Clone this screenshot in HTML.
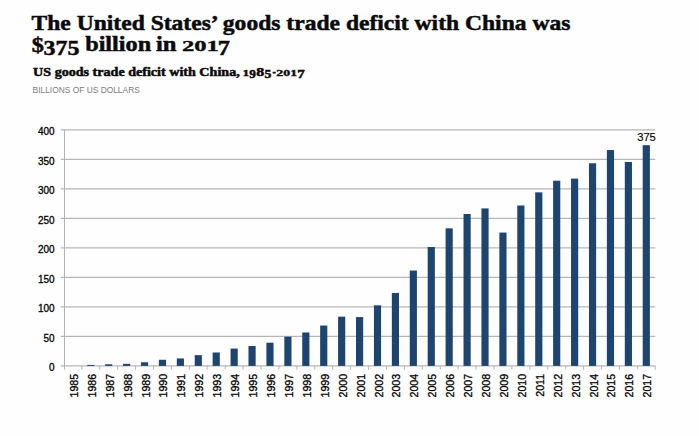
<!DOCTYPE html>
<html><head><meta charset="utf-8"><style>
html,body{margin:0;padding:0;background:#fefefe;}
body{width:699px;height:436px;position:relative;overflow:hidden;}
svg{position:absolute;left:0;top:0;}
.ser{font-family:"Liberation Serif",serif;font-weight:bold;fill:#0a0a0a;stroke:#0a0a0a;stroke-width:0.5px;}
.san{font-family:"Liberation Sans",sans-serif;}
.lab{font-family:"Liberation Sans",sans-serif;font-size:10.6px;fill:#000;stroke:#000;stroke-width:0.3px;}
</style></head><body>
<svg width="699" height="436" viewBox="0 0 699 436">
<text class="ser" transform="translate(31.48,30.00) scale(1,1.0)" font-size="21.5" textLength="538.94" lengthAdjust="spacingAndGlyphs">The United States’ goods trade deficit with China was</text>
<text class="ser" transform="translate(31.68,52.00) scale(1,1.0)" font-size="21.5" textLength="12.15" lengthAdjust="spacingAndGlyphs">$</text><text class="ser" transform="translate(43.55,55.00) scale(1,1.0)" font-size="21.5" textLength="35.88" lengthAdjust="spacingAndGlyphs">375</text><text class="ser" transform="translate(85.14,51.00) scale(1,1.0)" font-size="21.5" textLength="66.08" lengthAdjust="spacingAndGlyphs">billion</text><text class="ser" transform="translate(156.01,51.00) scale(1,1.0)" font-size="21.5" textLength="20.51" lengthAdjust="spacingAndGlyphs">in</text><text class="ser" transform="translate(181.91,51.00) scale(1,0.72)" font-size="21.5" textLength="37.01" lengthAdjust="spacingAndGlyphs">201</text><text class="ser" transform="translate(217.66,55.00) scale(1,1.0)" font-size="21.5" textLength="12.19" lengthAdjust="spacingAndGlyphs">7</text>
<text class="ser" transform="translate(33.10,76.30) scale(1,1.0)" font-size="12.6" textLength="206.59" lengthAdjust="spacingAndGlyphs">US goods trade deficit with China,</text><text class="ser" transform="translate(242.56,76.30) scale(1,0.71)" font-size="12.6" textLength="6.79" lengthAdjust="spacingAndGlyphs">1</text><text class="ser" transform="translate(249.29,78.30) scale(1,1.0)" font-size="12.6" textLength="6.64" lengthAdjust="spacingAndGlyphs">9</text><text class="ser" transform="translate(256.32,76.30) scale(1,1.0)" font-size="12.6" textLength="7.96" lengthAdjust="spacingAndGlyphs">8</text><text class="ser" transform="translate(264.60,78.30) scale(1,1.0)" font-size="12.6" textLength="6.85" lengthAdjust="spacingAndGlyphs">5</text><text class="ser" transform="translate(272.48,76.30) scale(1,1.0)" font-size="12.6" textLength="3.33" lengthAdjust="spacingAndGlyphs">-</text><text class="ser" transform="translate(276.27,76.30) scale(1,0.71)" font-size="12.6" textLength="20.80" lengthAdjust="spacingAndGlyphs">201</text><text class="ser" transform="translate(297.19,78.30) scale(1,1.0)" font-size="12.6" textLength="7.53" lengthAdjust="spacingAndGlyphs">7</text>
<text class="san" x="32.6" y="92.7" font-size="8.4" fill="#7c7c7c" textLength="107.2" lengthAdjust="spacingAndGlyphs">BILLIONS OF US DOLLARS</text>
<line x1="60.8" y1="336.40" x2="655.26" y2="336.40" stroke="#b6b6b6" stroke-width="1.2"/><line x1="60.8" y1="306.90" x2="655.26" y2="306.90" stroke="#b6b6b6" stroke-width="1.2"/><line x1="60.8" y1="277.40" x2="655.26" y2="277.40" stroke="#b6b6b6" stroke-width="1.2"/><line x1="60.8" y1="247.90" x2="655.26" y2="247.90" stroke="#b6b6b6" stroke-width="1.2"/><line x1="60.8" y1="218.40" x2="655.26" y2="218.40" stroke="#b6b6b6" stroke-width="1.2"/><line x1="60.8" y1="188.90" x2="655.26" y2="188.90" stroke="#b6b6b6" stroke-width="1.2"/><line x1="60.8" y1="159.40" x2="655.26" y2="159.40" stroke="#b6b6b6" stroke-width="1.2"/><line x1="60.8" y1="129.90" x2="655.26" y2="129.90" stroke="#b6b6b6" stroke-width="1.2"/><line x1="60.8" y1="365.9" x2="655.26" y2="365.9" stroke="#b6b6b6" stroke-width="1.2"/><rect x="69.28" y="365.90" width="7.17" height="0.00" fill="#1e456f"/><rect x="87.20" y="364.90" width="7.17" height="1.00" fill="#1e456f"/><rect x="105.12" y="364.25" width="7.17" height="1.65" fill="#1e456f"/><rect x="123.04" y="363.84" width="7.17" height="2.06" fill="#1e456f"/><rect x="140.96" y="362.26" width="7.17" height="3.64" fill="#1e456f"/><rect x="158.88" y="359.79" width="7.17" height="6.11" fill="#1e456f"/><rect x="176.80" y="358.44" width="7.17" height="7.46" fill="#1e456f"/><rect x="194.72" y="355.15" width="7.17" height="10.75" fill="#1e456f"/><rect x="212.64" y="352.50" width="7.17" height="13.40" fill="#1e456f"/><rect x="230.56" y="348.56" width="7.17" height="17.34" fill="#1e456f"/><rect x="248.48" y="346.04" width="7.17" height="19.86" fill="#1e456f"/><rect x="266.40" y="342.69" width="7.17" height="23.21" fill="#1e456f"/><rect x="284.32" y="336.69" width="7.17" height="29.21" fill="#1e456f"/><rect x="302.24" y="332.46" width="7.17" height="33.44" fill="#1e456f"/><rect x="320.16" y="325.53" width="7.17" height="40.37" fill="#1e456f"/><rect x="338.08" y="316.66" width="7.17" height="49.24" fill="#1e456f"/><rect x="356.00" y="317.07" width="7.17" height="48.83" fill="#1e456f"/><rect x="373.92" y="305.31" width="7.17" height="60.59" fill="#1e456f"/><rect x="391.84" y="292.97" width="7.17" height="72.93" fill="#1e456f"/><rect x="409.76" y="270.53" width="7.17" height="95.37" fill="#1e456f"/><rect x="427.68" y="247.02" width="7.17" height="118.88" fill="#1e456f"/><rect x="445.60" y="228.33" width="7.17" height="137.57" fill="#1e456f"/><rect x="463.52" y="214.00" width="7.17" height="151.90" fill="#1e456f"/><rect x="481.44" y="208.41" width="7.17" height="157.49" fill="#1e456f"/><rect x="499.36" y="232.56" width="7.17" height="133.34" fill="#1e456f"/><rect x="517.28" y="205.47" width="7.17" height="160.43" fill="#1e456f"/><rect x="535.20" y="192.37" width="7.17" height="173.53" fill="#1e456f"/><rect x="553.12" y="180.73" width="7.17" height="185.17" fill="#1e456f"/><rect x="571.04" y="178.62" width="7.17" height="187.28" fill="#1e456f"/><rect x="588.96" y="163.28" width="7.17" height="202.62" fill="#1e456f"/><rect x="606.88" y="150.06" width="7.17" height="215.84" fill="#1e456f"/><rect x="624.80" y="161.99" width="7.17" height="203.91" fill="#1e456f"/><rect x="642.72" y="145.18" width="7.17" height="220.72" fill="#1e456f"/><line x1="64.5" y1="129.40" x2="64.5" y2="369.6" stroke="#b4b4b4" stroke-width="1"/><line x1="81.82" y1="365.9" x2="81.82" y2="369.6" stroke="#b4b4b4" stroke-width="1"/><line x1="99.74" y1="365.9" x2="99.74" y2="369.6" stroke="#b4b4b4" stroke-width="1"/><line x1="117.66" y1="365.9" x2="117.66" y2="369.6" stroke="#b4b4b4" stroke-width="1"/><line x1="135.58" y1="365.9" x2="135.58" y2="369.6" stroke="#b4b4b4" stroke-width="1"/><line x1="153.50" y1="365.9" x2="153.50" y2="369.6" stroke="#b4b4b4" stroke-width="1"/><line x1="171.42" y1="365.9" x2="171.42" y2="369.6" stroke="#b4b4b4" stroke-width="1"/><line x1="189.34" y1="365.9" x2="189.34" y2="369.6" stroke="#b4b4b4" stroke-width="1"/><line x1="207.26" y1="365.9" x2="207.26" y2="369.6" stroke="#b4b4b4" stroke-width="1"/><line x1="225.18" y1="365.9" x2="225.18" y2="369.6" stroke="#b4b4b4" stroke-width="1"/><line x1="243.10" y1="365.9" x2="243.10" y2="369.6" stroke="#b4b4b4" stroke-width="1"/><line x1="261.02" y1="365.9" x2="261.02" y2="369.6" stroke="#b4b4b4" stroke-width="1"/><line x1="278.94" y1="365.9" x2="278.94" y2="369.6" stroke="#b4b4b4" stroke-width="1"/><line x1="296.86" y1="365.9" x2="296.86" y2="369.6" stroke="#b4b4b4" stroke-width="1"/><line x1="314.78" y1="365.9" x2="314.78" y2="369.6" stroke="#b4b4b4" stroke-width="1"/><line x1="332.70" y1="365.9" x2="332.70" y2="369.6" stroke="#b4b4b4" stroke-width="1"/><line x1="350.62" y1="365.9" x2="350.62" y2="369.6" stroke="#b4b4b4" stroke-width="1"/><line x1="368.54" y1="365.9" x2="368.54" y2="369.6" stroke="#b4b4b4" stroke-width="1"/><line x1="386.46" y1="365.9" x2="386.46" y2="369.6" stroke="#b4b4b4" stroke-width="1"/><line x1="404.38" y1="365.9" x2="404.38" y2="369.6" stroke="#b4b4b4" stroke-width="1"/><line x1="422.30" y1="365.9" x2="422.30" y2="369.6" stroke="#b4b4b4" stroke-width="1"/><line x1="440.22" y1="365.9" x2="440.22" y2="369.6" stroke="#b4b4b4" stroke-width="1"/><line x1="458.14" y1="365.9" x2="458.14" y2="369.6" stroke="#b4b4b4" stroke-width="1"/><line x1="476.06" y1="365.9" x2="476.06" y2="369.6" stroke="#b4b4b4" stroke-width="1"/><line x1="493.98" y1="365.9" x2="493.98" y2="369.6" stroke="#b4b4b4" stroke-width="1"/><line x1="511.90" y1="365.9" x2="511.90" y2="369.6" stroke="#b4b4b4" stroke-width="1"/><line x1="529.82" y1="365.9" x2="529.82" y2="369.6" stroke="#b4b4b4" stroke-width="1"/><line x1="547.74" y1="365.9" x2="547.74" y2="369.6" stroke="#b4b4b4" stroke-width="1"/><line x1="565.66" y1="365.9" x2="565.66" y2="369.6" stroke="#b4b4b4" stroke-width="1"/><line x1="583.58" y1="365.9" x2="583.58" y2="369.6" stroke="#b4b4b4" stroke-width="1"/><line x1="601.50" y1="365.9" x2="601.50" y2="369.6" stroke="#b4b4b4" stroke-width="1"/><line x1="619.42" y1="365.9" x2="619.42" y2="369.6" stroke="#b4b4b4" stroke-width="1"/><line x1="637.34" y1="365.9" x2="637.34" y2="369.6" stroke="#b4b4b4" stroke-width="1"/><line x1="655.26" y1="365.9" x2="655.26" y2="369.6" stroke="#b4b4b4" stroke-width="1"/>
<g class="lab">
<text transform="translate(54.6,371.20) scale(0.94,1)" text-anchor="end">0</text><text transform="translate(54.6,341.70) scale(0.94,1)" text-anchor="end">50</text><text transform="translate(54.6,312.20) scale(0.94,1)" text-anchor="end">100</text><text transform="translate(54.6,282.70) scale(0.94,1)" text-anchor="end">150</text><text transform="translate(54.6,253.20) scale(0.94,1)" text-anchor="end">200</text><text transform="translate(54.6,223.70) scale(0.94,1)" text-anchor="end">250</text><text transform="translate(54.6,194.20) scale(0.94,1)" text-anchor="end">300</text><text transform="translate(54.6,164.70) scale(0.94,1)" text-anchor="end">350</text><text transform="translate(54.6,135.20) scale(0.94,1)" text-anchor="end">400</text>
<text transform="translate(77.86,373.9) rotate(-90) scale(1.0,1)" text-anchor="end">1985</text><text transform="translate(95.78,373.9) rotate(-90) scale(1.0,1)" text-anchor="end">1986</text><text transform="translate(113.70,373.9) rotate(-90) scale(1.0,1)" text-anchor="end">1987</text><text transform="translate(131.62,373.9) rotate(-90) scale(1.0,1)" text-anchor="end">1988</text><text transform="translate(149.54,373.9) rotate(-90) scale(1.0,1)" text-anchor="end">1989</text><text transform="translate(167.46,373.9) rotate(-90) scale(1.0,1)" text-anchor="end">1990</text><text transform="translate(185.38,373.9) rotate(-90) scale(1.0,1)" text-anchor="end">1991</text><text transform="translate(203.30,373.9) rotate(-90) scale(1.0,1)" text-anchor="end">1992</text><text transform="translate(221.22,373.9) rotate(-90) scale(1.0,1)" text-anchor="end">1993</text><text transform="translate(239.14,373.9) rotate(-90) scale(1.0,1)" text-anchor="end">1994</text><text transform="translate(257.06,373.9) rotate(-90) scale(1.0,1)" text-anchor="end">1995</text><text transform="translate(274.98,373.9) rotate(-90) scale(1.0,1)" text-anchor="end">1996</text><text transform="translate(292.90,373.9) rotate(-90) scale(1.0,1)" text-anchor="end">1997</text><text transform="translate(310.82,373.9) rotate(-90) scale(1.0,1)" text-anchor="end">1998</text><text transform="translate(328.74,373.9) rotate(-90) scale(1.0,1)" text-anchor="end">1999</text><text transform="translate(346.66,373.9) rotate(-90) scale(1.0,1)" text-anchor="end">2000</text><text transform="translate(364.58,373.9) rotate(-90) scale(1.0,1)" text-anchor="end">2001</text><text transform="translate(382.50,373.9) rotate(-90) scale(1.0,1)" text-anchor="end">2002</text><text transform="translate(400.42,373.9) rotate(-90) scale(1.0,1)" text-anchor="end">2003</text><text transform="translate(418.34,373.9) rotate(-90) scale(1.0,1)" text-anchor="end">2004</text><text transform="translate(436.26,373.9) rotate(-90) scale(1.0,1)" text-anchor="end">2005</text><text transform="translate(454.18,373.9) rotate(-90) scale(1.0,1)" text-anchor="end">2006</text><text transform="translate(472.10,373.9) rotate(-90) scale(1.0,1)" text-anchor="end">2007</text><text transform="translate(490.02,373.9) rotate(-90) scale(1.0,1)" text-anchor="end">2008</text><text transform="translate(507.94,373.9) rotate(-90) scale(1.0,1)" text-anchor="end">2009</text><text transform="translate(525.86,373.9) rotate(-90) scale(1.0,1)" text-anchor="end">2010</text><text transform="translate(543.78,373.9) rotate(-90) scale(1.0,1)" text-anchor="end">2011</text><text transform="translate(561.70,373.9) rotate(-90) scale(1.0,1)" text-anchor="end">2012</text><text transform="translate(579.62,373.9) rotate(-90) scale(1.0,1)" text-anchor="end">2013</text><text transform="translate(597.54,373.9) rotate(-90) scale(1.0,1)" text-anchor="end">2014</text><text transform="translate(615.46,373.9) rotate(-90) scale(1.0,1)" text-anchor="end">2015</text><text transform="translate(633.38,373.9) rotate(-90) scale(1.0,1)" text-anchor="end">2016</text><text transform="translate(651.30,373.9) rotate(-90) scale(1.0,1)" text-anchor="end">2017</text>
<text transform="translate(646.50,140.8)" text-anchor="middle" font-size="11.2" style="stroke-width:0.15px">375</text>
</g>
</svg>
</body></html>
